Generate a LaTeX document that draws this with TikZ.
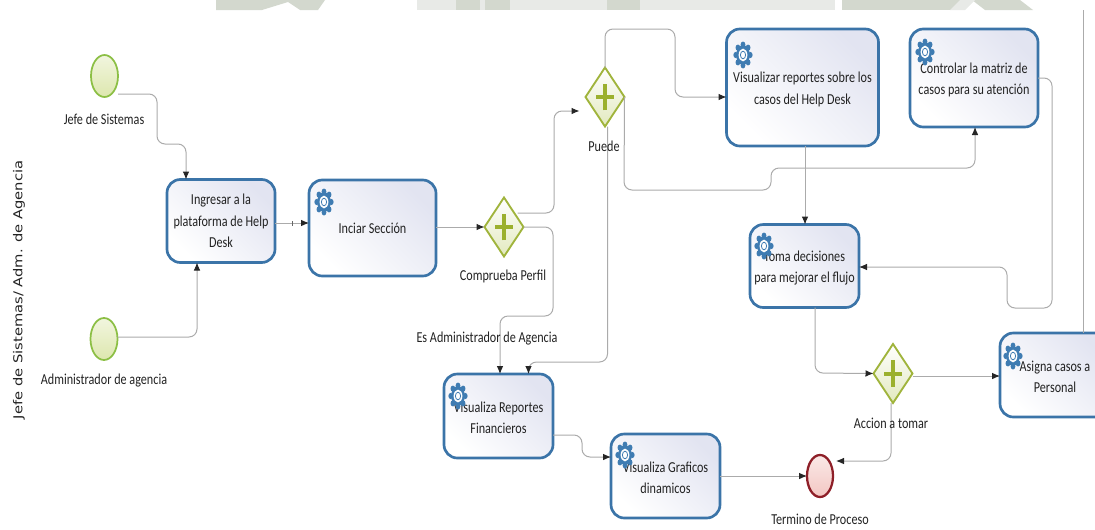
\documentclass[tikz,border=0pt]{standalone}
\usepackage{fontspec}
\setmainfont[FakeStretch=0.8]{Carlito}
\newfontfamily\sidefont[FakeStretch=1.2]{DejaVu Sans}
\usetikzlibrary{shapes.geometric,arrows.meta}
\definecolor{taskblue}{HTML}{3B74A8}
\definecolor{taskfill}{HTML}{E2E4F1}
\definecolor{gwline}{HTML}{A0B43C}
\definecolor{gwfill}{HTML}{E2E9BE}
\definecolor{gwplus}{HTML}{9BB02E}
\definecolor{startline}{HTML}{8CBF45}
\definecolor{startfill}{HTML}{DDE7AE}
\definecolor{endline}{HTML}{8E1F28}
\definecolor{endfill}{HTML}{F3C7C3}
\definecolor{flowgrey}{HTML}{ABABAB}
\definecolor{gearblue}{HTML}{3F7CB2}
\definecolor{txt}{HTML}{222222}
\definecolor{wmlight}{HTML}{E8EAE7}
\definecolor{wmdark}{HTML}{D3D8CE}
\tikzset{
  x=0.75pt,y=-0.75pt,
  taskbox/.style n args={2}{draw=taskblue,line width=2pt,rounded corners=10pt,
    left color=white,right color=taskfill,shading angle=135,
    minimum width=#1*0.75pt,minimum height=#2*0.75pt,inner sep=0pt,outer sep=0pt,
    align=center,text=txt,font=\fontsize{11.4}{16}\selectfont},
  gateway/.style={diamond,aspect=0.67,draw=gwline,line width=1.4pt,top color=white,bottom color=gwfill,
    minimum width=39*0.75pt,minimum height=59*0.75pt,inner sep=0pt,outer sep=0pt},
  startev/.style={ellipse,draw=startline,line width=1.3pt,top color=white!60!startfill,bottom color=startfill,
    minimum width=27*0.75pt,minimum height=42*0.75pt,inner sep=0pt,outer sep=0pt},
  endev/.style={ellipse,draw=endline,line width=1.7pt,top color=white!60!endfill,bottom color=endfill,
    minimum width=26*0.75pt,minimum height=42*0.75pt,inner sep=0pt,outer sep=0pt},
  flow/.style={draw=flowgrey,line width=0.75pt,rounded corners=6pt,
    -{Latex[length=6pt,width=5pt,black!85]}},
  bare/.style={draw=flowgrey,line width=0.75pt,rounded corners=6pt},
  lbl/.style={text=txt,font=\fontsize{11.4}{13}\selectfont,inner sep=0pt},
  plusbar/.style={draw=gwplus,line width=3pt},
  markbar/.style={draw=black!60,line width=0.5pt},
}
\newcommand{\lowtext}{\rule{0pt}{11pt}}
\newcommand{\gearmark}[2]{%
  \begin{scope}[shift={(#1,#2)}]
    \foreach \a in {0,45,...,315}
      \fill[gearblue] (\a:7.2 and 10.4) ellipse [x radius=2.4,y radius=3.1];
    \fill[gearblue] (0,0) ellipse [x radius=6.8,y radius=9.8];
    \fill[white] (0,0) ellipse [x radius=4.4,y radius=6.4];
    \draw[gearblue,line width=0.6pt] (0,0) ellipse [x radius=2.6,y radius=3.8];
  \end{scope}}
\newcommand{\plusmark}[1]{%
  \draw[plusbar] ([xshift=-6.5pt]#1.center) -- ([xshift=6.5pt]#1.center);
  \draw[plusbar] ([yshift=-10pt]#1.center) -- ([yshift=10pt]#1.center);}
\begin{document}
\begin{tikzpicture}
\useasboundingbox (0,0) rectangle (1095,529);
% watermark strip along the top edge
\fill[wmdark] (216,0) -- (325,0) -- (318,10) -- (300,10) -- (288,2) -- (262,10) -- (216,10) -- cycle;
\fill[wmlight] (417,0) rectangle (835,10);
\fill[wmdark] (456,0) rectangle (480,10);
\fill[wmdark] (485,0) rectangle (510,10);
\fill[wmdark] (607,0) rectangle (640,10);
\fill[wmdark] (842,0) rectangle (960,10);
\fill[wmdark] (972,0) -- (1020,0) -- (1033,10) -- (985,10) -- cycle;
\fill[wmlight] (960,0) -- (975,0) -- (965,10) -- (950,10) -- cycle;
% flow nodes
\node[startev] (s1) at (104.5,76) {};
\node[startev] (s2) at (104,339) {};
\node[taskbox={108}{83}] (ing) at (221,221) {Ingresar a la\\plataforma de Help\\Desk};
\node[taskbox={127}{96}] (inc) at (372.5,228) {Inciar Secci\'on};
\node[gateway] (g1) at (504,227) {};
\node[gateway] (g2) at (605,97) {};
\node[taskbox={152}{117}] (vis) at (802.5,87.5) {\lowtext Visualizar reportes sobre los\\casos del Help Desk};
\node[taskbox={128}{98}] (con) at (974,78) {\lowtext Controlar la matriz de\\casos para su atenci\'on};
\node[taskbox={109}{83}] (tom) at (804.5,266) {\lowtext Toma decisiones\\para mejorar el flujo};
\node[gateway] (g3) at (893,373.5) {};
\node[taskbox={110}{84}] (asi) at (1055,375) {\lowtext Asigna casos a\\Personal};
\node[taskbox={109}{84}] (rep) at (498.5,416) {\lowtext Visualiza Reportes\\Financieros};
\node[taskbox={109}{84}] (gra) at (665.5,476) {\lowtext Visualiza Graficos\\dinamicos};
\node[endev] (fin) at (820,476) {};
\coordinate (edge) at (1083,10);
% connectors
\draw[flow] (s1.east |- 0,94) -- (157,94) -- (157,144) -- (186,144) -- (ing.north -| 186,0);
\draw[flow] (s2.east |- 0,337) -- (197,337) -- (ing.south -| 197,0);
\draw[flow] (ing.east |- 0,223) -- (inc.west |- 0,223);
\draw[markbar] (292,221) -- (292,226);
\draw[flow] (inc.east |- g1.west) -- (g1.west);
\draw[flow] ([shift={(-6,-14)}]g1.east) -- (554,213) -- (554,111) -- ([shift={(-6,14)}]g2.west);
\draw[flow] (g1.east) -- (553,227) -- (553,316) -- (500,316) -- (rep.north -| 500,0);
\draw[flow] (g2.south -| 607.5,0) -- (607.5,362) -- (528.5,362) -- (rep.north -| 528.5,0);
\draw[flow] (g2.north) -- (605,29) -- (675,29) -- (675,97) -- (vis.west |- 0,97);
\draw[flow] (g2.east) -- (624,190) -- (771,190) -- (771,168) -- (975,168) -- (con.south -| 975,0);
\draw[flow] (vis.south -| 805,0) -- (tom.north -| 805,0);
\draw[flow] (con.east) -- (1052,78) -- (1052,308) -- (1007,308) -- (1007,267) -- (tom.east |- 0,267);
\draw[bare] (edge) -- (asi.north -| 1083,0);
\draw[flow] (tom.south -| 815,0) -- (815,373) -- (g3.west);
\draw[flow] (g3.east |- 0,376) -- (asi.west |- 0,376);
\draw[flow] (g3.south -| 891,0) -- (891,461) -- (836,461);
\draw[flow] (rep.east |- 0,435) -- (582,435) -- (582,457) -- (gra.west |- 0,457);
\draw[flow] (gra.east |- fin.west) -- (fin.west);
% gateway plus marks
\plusmark{g1}\plusmark{g2}\plusmark{g3}
% task markers
\gearmark{324}{202}
\gearmark{743}{55}
\gearmark{925}{52}
\gearmark{764}{246}
\gearmark{458}{396}
\gearmark{625}{455}
\gearmark{1013}{356}
% labels
\node[lbl] (l1) at (104,119) {Jefe de Sistemas};
\node[lbl] (l2) at (104,381) {Administrador de agencia};
\node[lbl] (l3) at (503,276) {Comprueba Perfil};
\node[lbl] (l4) at (604,146) {Puede};
\node[lbl] (l5) at (487,339) {Es Administrador de Agencia};
\node[lbl] (l6) at (891,423) {Accion a tomar};
\node[lbl] (l7) at (820,519) {Termino de Proceso};
\node[rotate=90,inner sep=0pt,text=txt,font=\sidefont\fontsize{9.2}{10}\selectfont] (side) at (19,290) {Jefe de Sistemas/ Adm. de Agencia};
\end{tikzpicture}
\end{document}
